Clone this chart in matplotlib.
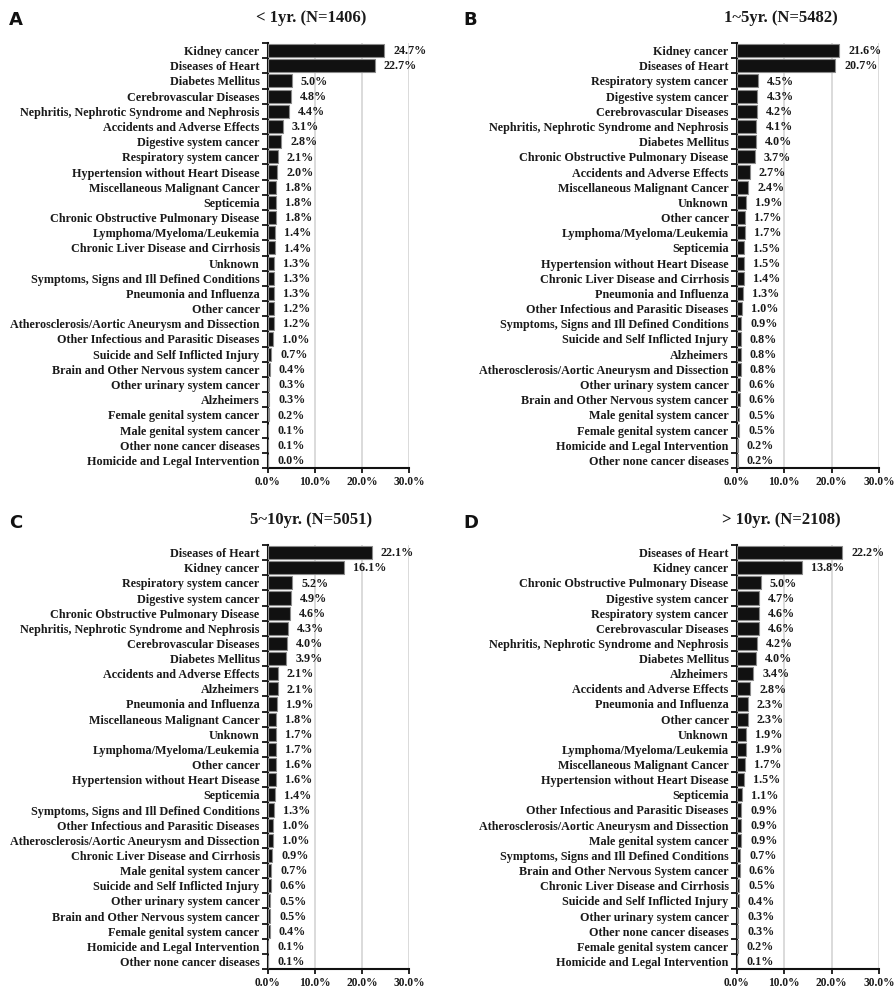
import numpy as np
import matplotlib
matplotlib.use('Agg')
import matplotlib.pyplot as plt
from matplotlib.ticker import FixedLocator

plt.rcParams['font.family'] = 'Liberation Serif'
plt.rcParams['font.weight'] = 'bold'

# Percentage of deaths by cause, per survival interval
causas_a = ['Kidney cancer', 'Diseases of Heart', 'Diabetes Mellitus', 'Cerebrovascular Diseases',
            'Nephritis, Nephrotic Syndrome and Nephrosis', 'Accidents and Adverse Effects',
            'Digestive system cancer', 'Respiratory system cancer', 'Hypertension without Heart Disease',
            'Miscellaneous Malignant Cancer', 'Septicemia', 'Chronic Obstructive Pulmonary Disease',
            'Lymphoma/Myeloma/Leukemia', 'Chronic Liver Disease and Cirrhosis', 'Unknown',
            'Symptoms, Signs and Ill Defined Conditions', 'Pneumonia and Influenza', 'Other cancer',
            'Atherosclerosis/Aortic Aneurysm and Dissection', 'Other Infectious and Parasitic Diseases',
            'Suicide and Self Inflicted Injury', 'Brain and Other Nervous system cancer',
            'Other urinary system cancer', 'Alzheimers', 'Female genital system cancer',
            'Male genital system cancer', 'Other none cancer diseases', 'Homicide and Legal Intervention']
valores_a = [24.7, 22.7, 5.0, 4.8, 4.4, 3.1, 2.8, 2.1, 2.0, 1.8, 1.8, 1.8, 1.4, 1.4,
             1.3, 1.3, 1.3, 1.2, 1.2, 1.0, 0.7, 0.4, 0.3, 0.3, 0.2, 0.1, 0.1, 0.0]

causas_b = ['Kidney cancer', 'Diseases of Heart', 'Respiratory system cancer', 'Digestive system cancer',
            'Cerebrovascular Diseases', 'Nephritis, Nephrotic Syndrome and Nephrosis', 'Diabetes Mellitus',
            'Chronic Obstructive Pulmonary Disease', 'Accidents and Adverse Effects',
            'Miscellaneous Malignant Cancer', 'Unknown', 'Other cancer', 'Lymphoma/Myeloma/Leukemia',
            'Septicemia', 'Hypertension without Heart Disease', 'Chronic Liver Disease and Cirrhosis',
            'Pneumonia and Influenza', 'Other Infectious and Parasitic Diseases',
            'Symptoms, Signs and Ill Defined Conditions', 'Suicide and Self Inflicted Injury', 'Alzheimers',
            'Atherosclerosis/Aortic Aneurysm and Dissection', 'Other urinary system cancer',
            'Brain and Other Nervous system cancer', 'Male genital system cancer',
            'Female genital system cancer', 'Homicide and Legal Intervention', 'Other none cancer diseases']
valores_b = [21.6, 20.7, 4.5, 4.3, 4.2, 4.1, 4.0, 3.7, 2.7, 2.4, 1.9, 1.7, 1.7, 1.5,
             1.5, 1.4, 1.3, 1.0, 0.9, 0.8, 0.8, 0.8, 0.6, 0.6, 0.5, 0.5, 0.2, 0.2]

causas_c = ['Diseases of Heart', 'Kidney cancer', 'Respiratory system cancer', 'Digestive system cancer',
            'Chronic Obstructive Pulmonary Disease', 'Nephritis, Nephrotic Syndrome and Nephrosis',
            'Cerebrovascular Diseases', 'Diabetes Mellitus', 'Accidents and Adverse Effects', 'Alzheimers',
            'Pneumonia and Influenza', 'Miscellaneous Malignant Cancer', 'Unknown',
            'Lymphoma/Myeloma/Leukemia', 'Other cancer', 'Hypertension without Heart Disease', 'Septicemia',
            'Symptoms, Signs and Ill Defined Conditions', 'Other Infectious and Parasitic Diseases',
            'Atherosclerosis/Aortic Aneurysm and Dissection', 'Chronic Liver Disease and Cirrhosis',
            'Male genital system cancer', 'Suicide and Self Inflicted Injury', 'Other urinary system cancer',
            'Brain and Other Nervous system cancer', 'Female genital system cancer',
            'Homicide and Legal Intervention', 'Other none cancer diseases']
valores_c = [22.1, 16.1, 5.2, 4.9, 4.6, 4.3, 4.0, 3.9, 2.1, 2.1, 1.9, 1.8, 1.7, 1.7,
             1.6, 1.6, 1.4, 1.3, 1.0, 1.0, 0.9, 0.7, 0.6, 0.5, 0.5, 0.4, 0.1, 0.1]

causas_d = ['Diseases of Heart', 'Kidney cancer', 'Chronic Obstructive Pulmonary Disease',
            'Digestive system cancer', 'Respiratory system cancer', 'Cerebrovascular Diseases',
            'Nephritis, Nephrotic Syndrome and Nephrosis', 'Diabetes Mellitus', 'Alzheimers',
            'Accidents and Adverse Effects', 'Pneumonia and Influenza', 'Other cancer', 'Unknown',
            'Lymphoma/Myeloma/Leukemia', 'Miscellaneous Malignant Cancer', 'Hypertension without Heart Disease',
            'Septicemia', 'Other Infectious and Parasitic Diseases',
            'Atherosclerosis/Aortic Aneurysm and Dissection', 'Male genital system cancer',
            'Symptoms, Signs and Ill Defined Conditions', 'Brain and Other Nervous System cancer',
            'Chronic Liver Disease and Cirrhosis', 'Suicide and Self Inflicted Injury',
            'Other urinary system cancer', 'Other none cancer diseases', 'Female genital system cancer',
            'Homicide and Legal Intervention']
valores_d = [22.2, 13.8, 5.0, 4.7, 4.6, 4.6, 4.2, 4.0, 3.4, 2.8, 2.3, 2.3, 1.9, 1.9,
             1.7, 1.5, 1.1, 0.9, 0.9, 0.9, 0.7, 0.6, 0.5, 0.4, 0.3, 0.3, 0.2, 0.1]

titulos = ['< 1yr. (N=1406)', '1~5yr. (N=5482)', '5~10yr. (N=5051)', '> 10yr. (N=2108)']
letras = ['A', 'B', 'C', 'D']
xticks = [0, 10, 20, 30]

W, H = 895, 990
fig = plt.figure(figsize=(W / 100, H / 100), dpi=100)

# posicoes em pixels: (x0, x1, y_topo, y_base)
caixas = [(268, 409, 43, 468), (737, 879, 43, 468),
          (268, 409, 545, 969), (737, 879, 545, 969)]
pos_titulo = [(311, 18), (781, 18), (311, 520), (781, 520)]
pos_letra = [(9, 20), (463, 20), (9, 523), (463, 523)]

dados = [(causas_a, valores_a), (causas_b, valores_b),
         (causas_c, valores_c), (causas_d, valores_d)]


def plotPainel(ax, causas, valores):
    n = len(causas)
    y = np.arange(n)
    ax.barh(y, valores, height=0.86, color='#111111', edgecolor='#8a8a8a', linewidth=0.8, zorder=3)
    for yi, v in zip(y, valores):
        ax.annotate('%.1f%%' % v, (v, yi), xytext=(6.5, -0.5), textcoords='offset points',
                    ha='left', va='center', fontsize=8.7, fontweight='bold', color='#1a1a1a')
    ax.set_xlim(0, 30)
    ax.set_ylim(n - 0.5, -0.5)
    ax.set_yticks(y)
    ax.set_yticklabels(causas, fontsize=8.7, fontweight='bold', color='#1a1a1a')
    ax.yaxis.set_minor_locator(FixedLocator(np.arange(n + 1) - 0.5))
    ax.tick_params(axis='y', which='major', length=0, pad=6)
    ax.tick_params(axis='y', which='minor', length=4, width=1.2, direction='out')
    ax.set_xticks(xticks)
    ax.set_xticklabels(['%.1f%%' % t for t in xticks], fontsize=8.3, fontweight='bold', color='#1a1a1a')
    ax.tick_params(axis='x', length=3.5, width=1.2, direction='out', pad=2.5)
    ax.grid(axis='x', color='#d4d4d4', linewidth=1.2, zorder=0)
    ax.set_axisbelow(True)
    for lado in ['top', 'right']:
        ax.spines[lado].set_visible(False)
    for lado in ['left', 'bottom']:
        ax.spines[lado].set_linewidth(1.5)
        ax.spines[lado].set_color('#111111')


for i, (causas, valores) in enumerate(dados):
    x0, x1, yt, yb = caixas[i]
    ax = fig.add_axes([x0 / W, 1 - yb / H, (x1 - x0) / W, (yb - yt) / H])
    plotPainel(ax, causas, valores)
    tx, ty = pos_titulo[i]
    fig.text(tx / W, 1 - ty / H, titulos[i], ha='center', va='center',
             fontsize=12, fontweight='bold', color='#1a1a1a')
    lx, ly = pos_letra[i]
    fig.text(lx / W, 1 - ly / H, letras[i], ha='left', va='center',
             fontsize=13, fontweight='bold', family='DejaVu Sans', color='#111111')

fig.savefig('out.png', dpi=100)
